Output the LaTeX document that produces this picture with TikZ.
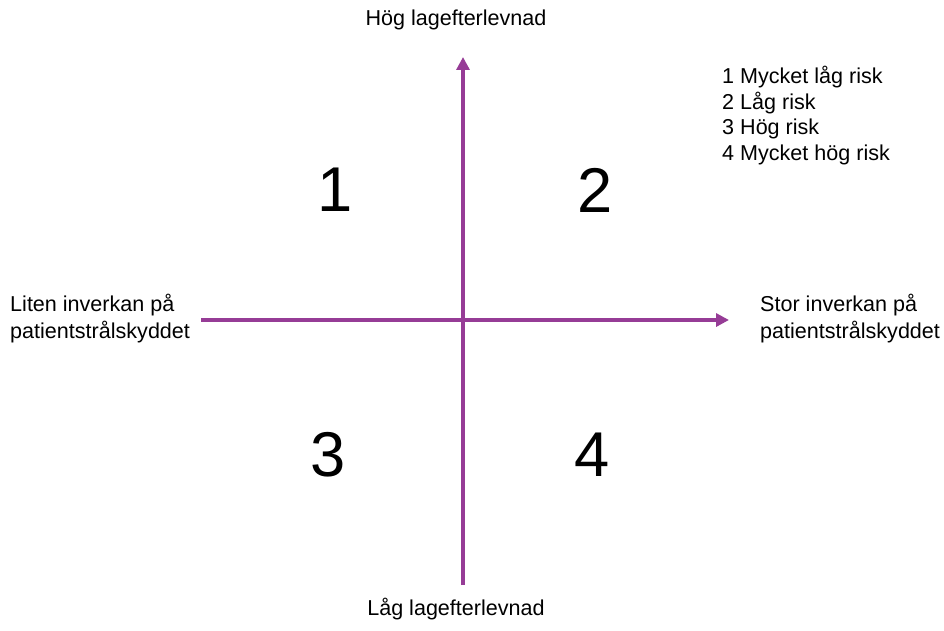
\documentclass[tikz,border=0pt]{standalone}
\usepackage{fontspec}
\setmainfont{Liberation Sans}
\usetikzlibrary{arrows.meta}
\definecolor{axispurple}{RGB}{150,60,150}
\begin{document}
\begin{tikzpicture}[x=0.03cm,y=-0.03cm,
  axis/.style={draw=axispurple,line width=2.8pt,-{Triangle[length=11pt,width=11pt]}},
  lbl/.style={font=\fontsize{18.4}{23}\selectfont,inner sep=0pt},
  big/.style={font=\fontsize{54}{60}\selectfont,inner sep=0pt}]
\useasboundingbox (0,0) rectangle (944,630);
\coordinate (vb) at (463,585);
\coordinate (vt) at (463,57);
\coordinate (hl) at (201,320);
\coordinate (hr) at (729,320);
\draw[axis] (vb) -- (vt);
\draw[axis] (hl) -- (hr);
\node[lbl] (top) at (456,20) {Hög lagefterlevnad};
\node[lbl] (bot) at (456,609) {Låg lagefterlevnad};
\node[lbl,anchor=west,align=left] (left) at (10,319) {Liten inverkan på\\patientstrålskyddet};
\node[lbl,anchor=west,align=left] (right) at (760,319) {Stor inverkan på\\patientstrålskyddet};
\node[lbl,anchor=north west,align=left,font=\fontsize{18.4}{21.9}\selectfont] (legend) at (722,66) {1 Mycket låg risk\\2 Låg risk\\3 Hög risk\\4 Mycket hög risk};
\node[big] (q1) at (335,190) {1};
\node[big] (q2) at (595,190) {2};
\node[big] (q3) at (328,455) {3};
\node[big] (q4) at (592,455) {4};
\end{tikzpicture}
\end{document}
